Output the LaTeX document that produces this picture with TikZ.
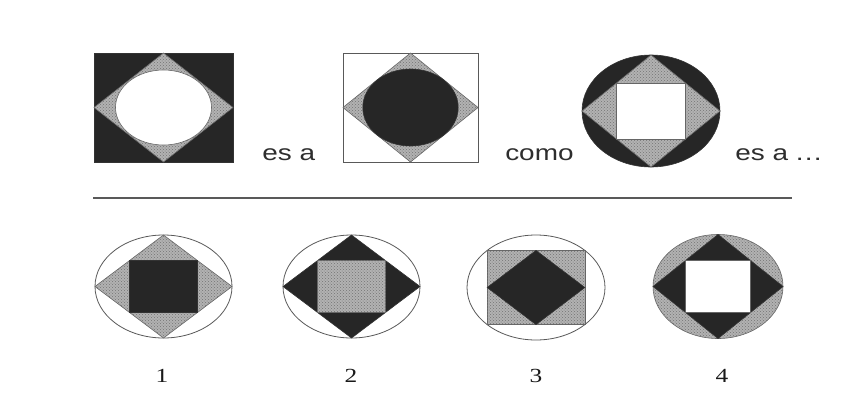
\documentclass[tikz,border=0pt]{standalone}
\usepackage{fontspec}
\newfontfamily\armfont{Liberation Sans}
\newfontfamily\timesfont{Liberation Serif}
\usepackage{tikz}
\usetikzlibrary{patterns}
\tikzset{
    outline/.style={draw=black!65, line width=0.8pt},
    darkfill/.style={fill=black!85, draw=black!80, line width=0.6pt},
    speckle/.style={fill=black!30, postaction={pattern=crosshatch dots, pattern color=black!55}, draw=black!60, line width=0.6pt},
    whitefill/.style={fill=white, draw=black!60, line width=0.6pt},
    wordlabel/.style={font=\armfont\fontsize{22}{26}\selectfont, text=black!82, xscale=1.27, inner sep=0pt},
    numlabel/.style={font=\timesfont\fontsize{20}{24}\selectfont, text=black!90, xscale=1.27, inner sep=0pt}
}

\begin{document}
\begin{tikzpicture}[x=1pt, y=-1pt]
            \fill[white] (0,0) rectangle (864,397);
            \useasboundingbox (0,0) rectangle (864,397);

            % top row: first figure (dark square, white circle)
            \path[darkfill] (94,53) rectangle (233,162);
            \path[speckle] (94,107.5) -- (163.5,53) -- (233,107.5) -- (163.5,162) -- cycle;
            \path[whitefill] (163.5,107.5) ellipse [x radius=48, y radius=37.5];
            \node[wordlabel, anchor=base west] (esa1) at (262,160) {es a};

            % top row: second figure (open square, dark circle)
            \path[outline, line width=0.7pt] (343,53) rectangle (478,162);
            \path[speckle] (343,107.5) -- (410.5,53) -- (478,107.5) -- (410.5,162) -- cycle;
            \path[darkfill] (410.5,107.5) ellipse [x radius=47.7, y radius=38.5];

            % top row: third figure (dark circle, white square)
            \node[wordlabel, anchor=base west] (como) at (505,160) {como};
            \path[darkfill] (651,111) ellipse [x radius=69, y radius=56];
            \path[speckle] (582,111) -- (651,55) -- (720,111) -- (651,167) -- cycle;
            \path[whitefill] (616.5,83) rectangle (685.5,139);
            \node[wordlabel, anchor=base west] (esa2) at (735,160) {es a .\kern1pt.\kern1pt.};

            % separating rule
            \coordinate (ruleL) at (93,198);
            \coordinate (ruleR) at (792,198);
            \draw[black!65, line width=2pt] (ruleL) -- (ruleR);

            % answer 1
            \path[outline, fill=white] (163.5,286.5) ellipse [x radius=68.5, y radius=51.5];
            \path[speckle] (95,286.5) -- (163.5,235) -- (232,286.5) -- (163.5,338) -- cycle;
            \path[darkfill] (129.25,260.75) rectangle (197.75,312.25);
            \node[numlabel, anchor=base] (num1) at (162,382) {1};

            % answer 2
            \path[outline, fill=white] (351.5,286.5) ellipse [x radius=68.5, y radius=51.5];
            \path[darkfill] (283,286.5) -- (351.5,235) -- (420,286.5) -- (351.5,338) -- cycle;
            \path[speckle] (317.25,260.75) rectangle (385.75,312.25);
            \node[numlabel, anchor=base] (num2) at (351,382) {2};

            % answer 3
            \path[outline, fill=white] (536,287.5) ellipse [x radius=69, y radius=52.5];
            \path[speckle] (487.2,250.4) rectangle (584.8,324.6);
            \path[darkfill] (487.2,287.5) -- (536,250.4) -- (584.8,287.5) -- (536,324.6) -- cycle;
            \node[numlabel, anchor=base] (num3) at (536,382) {3};

            % answer 4
            \path[speckle] (718,286.5) ellipse [x radius=65, y radius=52];
            \path[darkfill] (653,286.5) -- (718,234.5) -- (783,286.5) -- (718,338.5) -- cycle;
            \path[whitefill] (685.5,260.5) rectangle (750.5,312.5);
            \node[numlabel, anchor=base] (num4) at (722,382) {4};
        \end{tikzpicture}
\end{document}
